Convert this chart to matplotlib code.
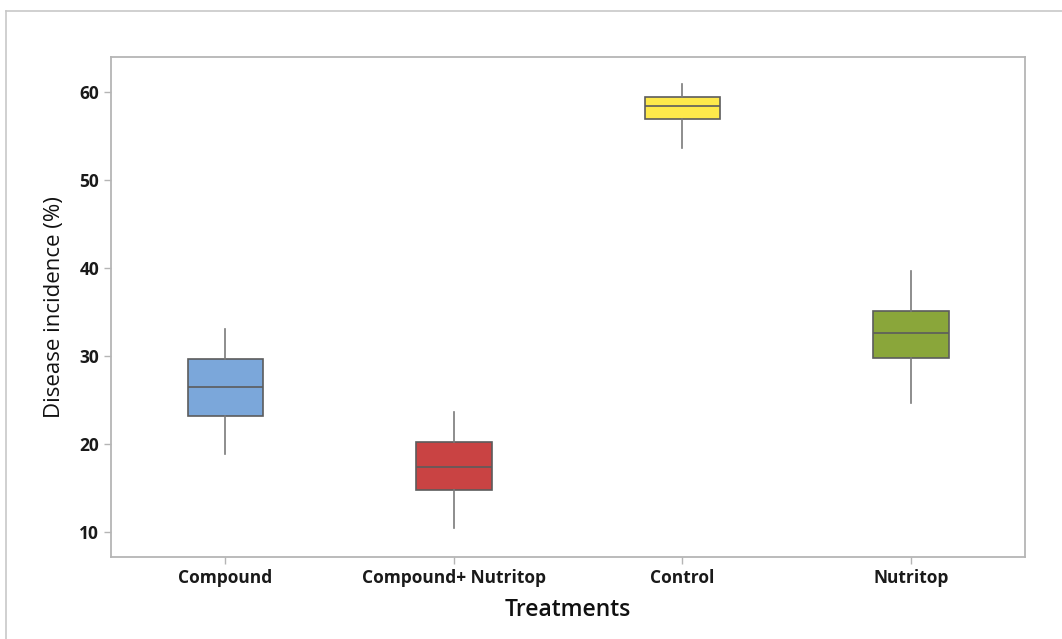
import matplotlib
matplotlib.use("Agg")
import matplotlib.pyplot as plt
from matplotlib.lines import Line2D

plt.rcParams['font.family'] = ['Open Sans', 'DejaVu Sans']

# Treatment groups and their box-plot summaries (disease incidence, %)
treatments = ["Compound", "Compound+ Nutritop", "Control", "Nutritop"]
whisker_low = [18.8, 10.4, 53.6, 24.6]
q1 = [23.1, 14.7, 57.0, 29.7]
median = [26.5, 17.3, 58.4, 32.6]
q3 = [29.6, 20.2, 59.4, 35.1]
whisker_high = [33.0, 23.6, 60.9, 39.7]
box_colors = ["#7BA7DA", "#C94343", "#FEE94B", "#8AA63A"]

stats = [
    dict(label=t, whislo=lo, q1=a, med=m, q3=b, whishi=hi, fliers=[])
    for t, lo, a, m, b, hi in zip(treatments, whisker_low, q1, median, q3, whisker_high)
]

fig = plt.figure(figsize=(10.62, 6.39), dpi=100)
ax = fig.add_axes([0.1045, 0.1283, 0.861, 0.7825])

bp = ax.bxp(
    stats,
    positions=[1, 2, 3, 4],
    widths=0.33,
    patch_artist=True,
    showcaps=False,
    boxprops=dict(edgecolor="#5c5c5c", linewidth=1.2),
    medianprops=dict(color="#5c5c5c", linewidth=1.2),
    whiskerprops=dict(color="#7a7a7a", linewidth=1.2),
)
for patch, c in zip(bp["boxes"], box_colors):
    patch.set_facecolor(c)

ax.set_xlim(0.5, 4.5)
ax.set_ylim(7.1, 64.0)
ax.set_yticks([10, 20, 30, 40, 50, 60])
ax.set_xticks([1, 2, 3, 4])
ax.set_xticklabels(treatments)

for side in ax.spines.values():
    side.set_color("#b5b5b5")
    side.set_linewidth(1.3)
ax.tick_params(axis="both", colors="#b5b5b5", length=5, width=1)
for lbl in ax.get_xticklabels() + ax.get_yticklabels():
    lbl.set_color("#1a1a1a")
    lbl.set_fontweight("bold")
    lbl.set_fontsize(12.5)

ax.set_xlabel("Treatments", fontsize=16.5, fontweight="semibold", color="#111111", labelpad=8)
ax.set_ylabel("Disease incidence (%)", fontsize=16, color="#111111", labelpad=10)

# Outer frame (top and left edges visible)
fig.add_artist(Line2D([6 / 1062, 1.0], [1 - 11 / 639, 1 - 11 / 639],
                      transform=fig.transFigure, color="#c8c8c8", linewidth=1.2))
fig.add_artist(Line2D([6 / 1062, 6 / 1062], [0.0, 1 - 11 / 639],
                      transform=fig.transFigure, color="#c8c8c8", linewidth=1.2))

fig.savefig("out.png", dpi=100)
